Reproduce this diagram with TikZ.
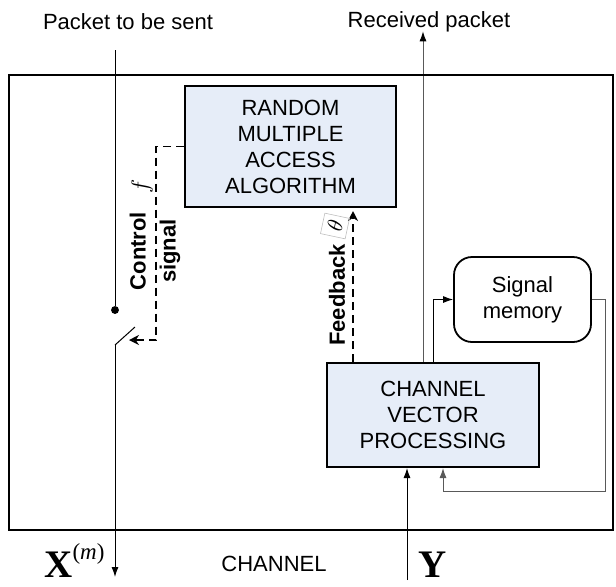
\documentclass[tikz,border=0pt]{standalone}
\usepackage{amsmath}
\usepackage{fontspec}
\setmainfont{Liberation Sans}
\newfontfamily\timesfam{Liberation Serif}
\usetikzlibrary{arrows.meta, positioning}

\definecolor{blockfill}{RGB}{230,237,248}

\begin{document}
\begin{tikzpicture}[x=0.5pt, y=-0.5pt, font=\fontsize{11}{13}\selectfont,
	block/.style={draw, line width=1pt, fill=blockfill, align=center, inner sep=2pt},
	memory/.style={draw, line width=0.9pt, rounded corners=9pt, align=center},
	ctrl/.style={dashed, dash pattern=on 4pt off 2.5pt, line width=0.9pt,
		-{Stealth[open, length=5pt, width=5pt]}},
	wire/.style={line width=0.5pt},
	arr/.style={wire, -{Latex[length=5pt, width=3.5pt]}},
	bigvec/.style={inner sep=0pt, anchor=base west,
		font=\timesfam\fontsize{19.5}{19.5}\selectfont\bfseries}]
	\useasboundingbox (0,0) rectangle (616,586);

	% channel frame
	\draw [line width=1.1pt] (9,75) rectangle (613,530);

	\node (rmaa) [block, minimum width=105.5pt, minimum height=60.5pt] at (290.5,146.5)
		{RANDOM\\MULTIPLE\\ACCESS\\ALGORITHM};
	\node (cvp) [block, minimum width=106pt, minimum height=52pt] at (433,415)
		{CHANNEL\\VECTOR\\PROCESSING};
	\node (mem) [memory, minimum width=68.5pt, minimum height=42.5pt] at (522.5,299.5)
		{Signal\\memory};

	\node (sent) at (128,22) {Packet to be sent};
	\node (recv) at (429,22) {Received packet};
	\node (chan) at (274,564) {CHANNEL};
	\node (xm) [bigvec] at (44,577)
		{X\raisebox{9pt}{\fontsize{11.5}{11.5}\selectfont\mdseries(\itshape m\/\upshape)}};
	\node (yv) [bigvec] at (418,577) {Y};

	% switch
	\node (dot) [circle, fill, inner sep=1.4pt] at (115,310) {};
	\coordinate (ptop) at (115,50);
	\coordinate (sw1) at (115,345);
	\coordinate (sw2) at (135,327);
	\coordinate (swc) at (129,340);
	\coordinate (xend) at (115,577);
	\coordinate (ystart) at (407,580);
	\coordinate (fb) at (353,0);
	\coordinate (rx) at (423,0);
	\coordinate (mx) at (433,0);
	\coordinate (lx) at (443,0);
	\coordinate (loop) at (605,491);

	\draw [wire] (ptop) -- (dot);
	\draw [wire] (sw1) -- (sw2);
	\draw [arr] (sw1) -- (xend);

	% control and feedback
	\draw [ctrl] (rmaa.west) -- ++(-28,0) |- (swc);
	\draw [ctrl, shorten >=1.5pt] (cvp.north -| fb) -- (rmaa.south -| fb);
	\node (flab) [rotate=90, font=\fontsize{12}{12}\selectfont] at (142,186) {$f$};
	\node (ctrllab) [rotate=90, align=center, font=\fontsize{11}{15}\bfseries] at (155,251)
		{Control\\signal};
	\node (fblab) [rotate=90, font=\fontsize{11}{13}\bfseries] at (337,295) {Feedback};
	\node (thlab) [rotate=78, draw=gray!50, line width=0.3pt, inner sep=2.5pt] at (335,226)
		{$\theta$};

	% processing paths
	\draw [arr] (cvp.north -| rx) -- (recv.south -| rx) -- ++(0,-8) coordinate (rtop);
	\draw [arr] (cvp.north -| mx) |- (mem.west);
	\draw [arr, gray!70!black] (mem.east) -| (loop) -| (cvp.south -| lx);
	\draw [arr] (ystart) -- (cvp.south -| ystart);
\end{tikzpicture}
\end{document}
